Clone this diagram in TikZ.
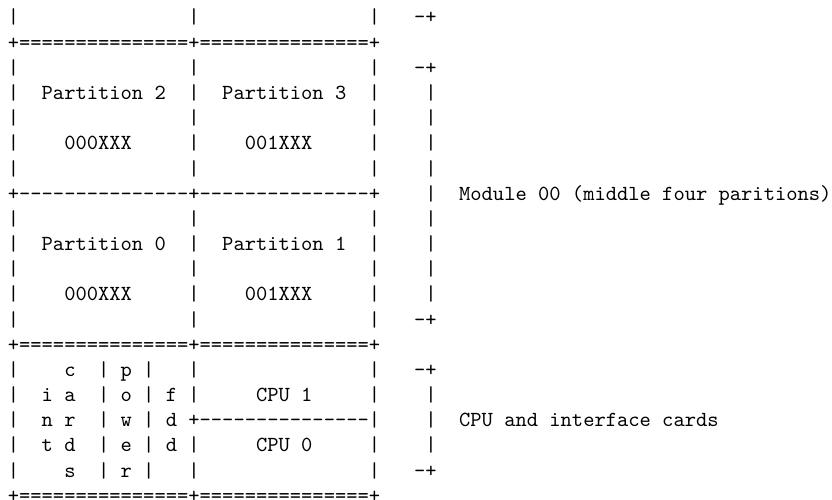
\documentclass[tikz,border=0pt]{standalone}
\font\asciifont="[lmmono10-regular.otf]" at 21.49pt
\tikzset{asciiline/.style={anchor=base west, inner sep=0pt, outer sep=0pt, text=black, font=\asciifont\frenchspacing}}
\newcommand\AsciiLine[2]{\node[asciiline] (l#1) at (7.86,{24+25.17*#1}) {#2};}
\begin{document}
\begin{tikzpicture}[x=1pt,y=-1pt]
\useasboundingbox[fill=white] (0,0) rectangle (832,500);
\AsciiLine{0}{|~~~~~~~~~~~~~~~|~~~~~~~~~~~~~~~|~~~-+}
\AsciiLine{1}{+===============+===============+}
\AsciiLine{2}{|~~~~~~~~~~~~~~~|~~~~~~~~~~~~~~~|~~~-+}
\AsciiLine{3}{|~~Partition~2~~|~~Partition~3~~|~~~~|}
\AsciiLine{4}{|~~~~~~~~~~~~~~~|~~~~~~~~~~~~~~~|~~~~|}
\AsciiLine{5}{|~~~~000XXX~~~~~|~~~~001XXX~~~~~|~~~~|}
\AsciiLine{6}{|~~~~~~~~~~~~~~~|~~~~~~~~~~~~~~~|~~~~|}
\AsciiLine{7}{+---------------+---------------+~~~~|~~Module~00~(middle~four~paritions)}
\AsciiLine{8}{|~~~~~~~~~~~~~~~|~~~~~~~~~~~~~~~|~~~~|}
\AsciiLine{9}{|~~Partition~0~~|~~Partition~1~~|~~~~|}
\AsciiLine{10}{|~~~~~~~~~~~~~~~|~~~~~~~~~~~~~~~|~~~~|}
\AsciiLine{11}{|~~~~000XXX~~~~~|~~~~001XXX~~~~~|~~~~|}
\AsciiLine{12}{|~~~~~~~~~~~~~~~|~~~~~~~~~~~~~~~|~~~-+}
\AsciiLine{13}{+===============+===============+}
\AsciiLine{14}{|~~~~c~~|~p~|~~~|~~~~~~~~~~~~~~~|~~~-+}
\AsciiLine{15}{|~~i~a~~|~o~|~f~|~~~~~CPU~1~~~~~|~~~~|}
\AsciiLine{16}{|~~n~r~~|~w~|~d~+---------------|~~~~|~~CPU~and~interface~cards}
\AsciiLine{17}{|~~t~d~~|~e~|~d~|~~~~~CPU~0~~~~~|~~~~|}
\AsciiLine{18}{|~~~~s~~|~r~|~~~|~~~~~~~~~~~~~~~|~~~-+}
\AsciiLine{19}{+===============+===============+}
\end{tikzpicture}
\end{document}
